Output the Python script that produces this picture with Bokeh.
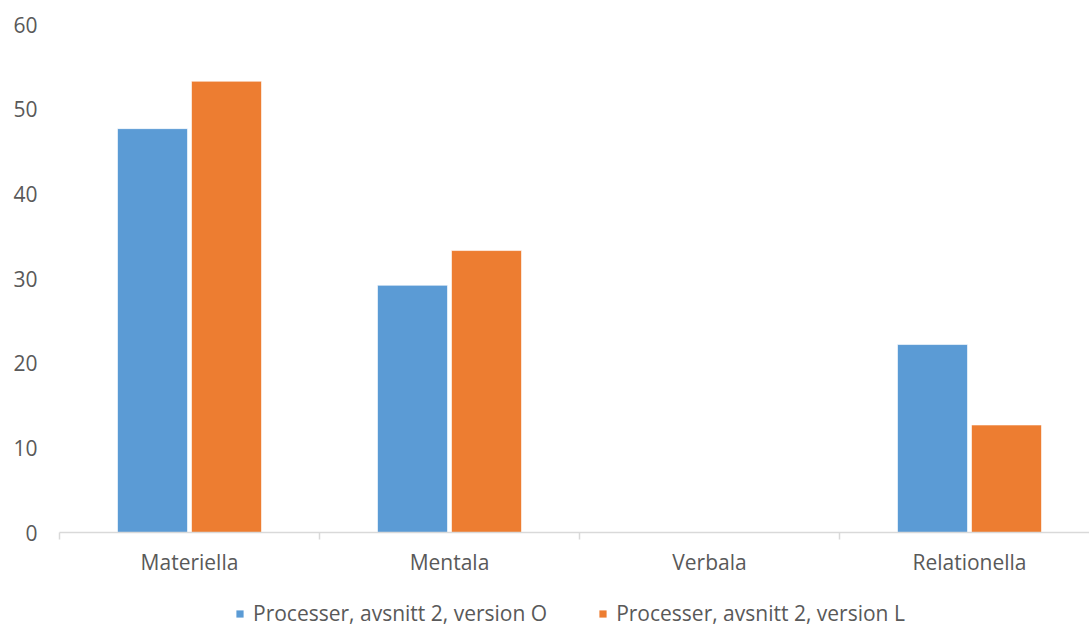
import numpy as np
from bokeh.plotting import figure
from bokeh.layouts import column
from bokeh.models import Range1d, FixedTicker, Legend, LegendItem, ColumnDataSource
from bokeh.embed import file_html
from bokeh.resources import INLINE

categories = ["Materiella", "Mentala", "Verbala", "Relationella"]
series_names = ["Processer, avsnitt 2, version O", "Processer, avsnitt 2, version L"]
version_o = [47.7, 29.2, 0, 22.2]
version_l = [53.3, 33.3, 0, 12.7]
y_ticks = [0, 10, 20, 30, 40, 50, 60]

BLUE = "#5B9BD5"
ORANGE = "#ED7D31"
TEXT = "#595959"
AXIS = "#D9D9D9"
FONT = "Open Sans"

centers = np.arange(len(categories)) + 0.5
bar_w = 70 / 260
offset = 37 / 260

src = ColumnDataSource(dict(
    x_o=centers - offset, x_l=centers + offset,
    o=version_o, l=version_l,
))

MAIN_H = 578
p = figure(width=1089, height=MAIN_H,
           x_range=Range1d(0, 1030 / 260), y_range=Range1d(0, 60),
           output_backend="svg", toolbar_location=None,
           min_border_left=59, min_border_right=0, min_border_top=24,
           min_border_bottom=46)
p.outline_line_color = None
p.xgrid.visible = False
p.ygrid.visible = False

p.vbar(x="x_o", top="o", width=bar_w, source=src,
       fill_color=BLUE, line_color="white", line_alpha=0.6, line_width=1)
p.vbar(x="x_l", top="l", width=bar_w, source=src,
       fill_color=ORANGE, line_color="white", line_alpha=0.6, line_width=1)

# x axis: labels at category centers, tick marks at category boundaries
xa = p.xaxis[0]
xa.ticker = FixedTicker(ticks=list(centers),
                        minor_ticks=list(range(len(categories) + 1)))
xa.major_label_overrides = {float(c): name for c, name in zip(centers, categories)}
xa.major_tick_out = 0
xa.major_tick_in = 0
xa.minor_tick_out = 7
xa.minor_tick_in = 0
xa.minor_tick_line_color = AXIS
xa.minor_tick_line_width = 1.5
xa.axis_line_color = AXIS
xa.axis_line_width = 1.5
xa.major_label_standoff = 8
xa.major_label_text_font = FONT
xa.major_label_text_font_size = "21px"
xa.major_label_text_color = TEXT

ya = p.yaxis[0]
ya.ticker = FixedTicker(ticks=y_ticks)
ya.axis_line_color = None
ya.major_tick_line_color = None
ya.minor_tick_line_color = None
ya.major_tick_out = 0
ya.major_label_standoff = 22
ya.major_label_text_font = FONT
ya.major_label_text_font_size = "21px"
ya.major_label_text_color = TEXT

# legend strip underneath the chart; its keys are zero-height bars
lf = figure(width=1089, height=627 - MAIN_H, output_backend="svg",
            toolbar_location=None, x_axis_location=None, y_axis_location=None,
            min_border=0, x_range=Range1d(0, 1), y_range=Range1d(0, 1))
lf.outline_line_color = None
lf.xgrid.visible = False
lf.ygrid.visible = False
key_o = lf.vbar(x=[0], top=[0], width=0, fill_color=BLUE, line_color=None)
key_l = lf.vbar(x=[0], top=[0], width=0, fill_color=ORANGE, line_color=None)

legend = Legend(items=[LegendItem(label=series_names[0], renderers=[key_o]),
                       LegendItem(label=series_names[1], renderers=[key_l])],
                orientation="horizontal", location=(176, 0),
                glyph_width=9, glyph_height=9, label_standoff=9, spacing=51,
                label_text_font=FONT, label_text_font_size="21px",
                label_text_color=TEXT, border_line_alpha=0,
                background_fill_alpha=0, padding=0, margin=0)
lf.add_layout(legend, "center")

layout = column(p, lf, spacing=0)
open("out.html", "w").write(file_html(layout, INLINE))
